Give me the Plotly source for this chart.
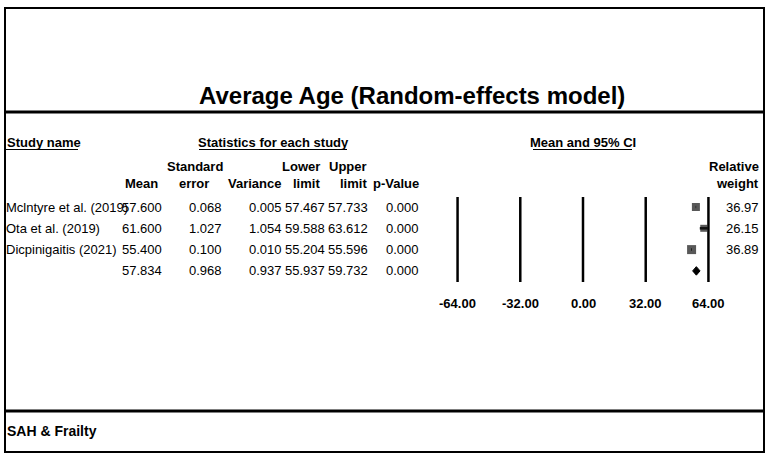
import plotly.graph_objects as go

# ---------------- data ----------------
study_labels = ["Mclntyre et al. (2019)", "Ota et al. (2019)", "Dicpinigaitis (2021)"]
means = [57.600, 61.600, 55.400]
std_errors = [0.068, 1.027, 0.100]
variances = [0.005, 1.054, 0.010]
lower_limits = [57.467, 59.588, 55.204]
upper_limits = [57.733, 63.612, 55.596]
p_values = [0.000, 0.000, 0.000]
rel_weights = [36.97, 26.15, 36.89]

summary_mean = 57.834
summary_se = 0.968
summary_var = 0.937
summary_lower = 55.937
summary_upper = 59.732
summary_p = 0.000

tick_vals = [-64, -32, 0, 32, 64]
tick_text = ["-64.00", "-32.00", "0.00", "32.00", "64.00"]

title_text = "Average Age (Random-effects model)"
footer_text = "SAH & Frailty"

# ---------------- geometry (pixels, in page coordinates) ----------------
W, H = 773, 460
FONT = "Liberation Sans, Arial, sans-serif"
marker_sizes = [8, 7, 9]

def fx(p):
    return p / W

def fy(p):
    return 1 - p / H

# x axis: value 0 at x=583, 1.96 px per unit
x0_px, scale = 583.0, 1.96
dom_l, dom_r = 430, 740
x_range = [(dom_l - x0_px) / scale, (dom_r - x0_px) / scale]

# y axis: rows; row 0 at y=207, spacing 21.3 px; domain = full figure height
row0_px, row_h = 207.0, 21.3
y_range = [(H - row0_px) / row_h, (0 - row0_px) / row_h]

def row_to_val(p):
    return (p - row0_px) / row_h

fig = go.Figure()

n = len(study_labels)
rows = list(range(n))

# CI lines + squares
fig.add_trace(go.Scatter(
    x=means, y=rows, mode="markers",
    marker=dict(symbol="square", size=marker_sizes, color="#111111",
                line=dict(width=0)),
    error_x=dict(type="data", symmetric=False,
                 array=[u - m for u, m in zip(upper_limits, means)],
                 arrayminus=[m - l for m, l in zip(means, lower_limits)],
                 color="#111111", thickness=2.5, width=0),
    hoverinfo="skip", showlegend=False,
))

# summary diamond
sr = n
dh = 0.2
fig.add_trace(go.Scatter(
    x=[summary_lower, summary_mean, summary_upper, summary_mean, summary_lower],
    y=[sr, sr - dh, sr, sr + dh, sr],
    mode="lines", fill="toself", fillcolor="#000000",
    line=dict(color="#000000", width=1),
    hoverinfo="skip", showlegend=False,
))

shapes = []
for tv in tick_vals:
    shapes.append(dict(type="line", xref="x", yref="y", x0=tv, x1=tv,
                       y0=row_to_val(197), y1=row_to_val(282),
                       line=dict(color="black", width=2.5)))

# outer frame and separators
shapes.append(dict(type="rect", xref="paper", yref="paper",
                   x0=fx(5), x1=fx(764), y0=fy(8), y1=fy(452),
                   line=dict(color="black", width=2)))
for yy in (112, 411):
    shapes.append(dict(type="line", xref="paper", yref="paper",
                       x0=fx(5), x1=fx(764), y0=fy(yy), y1=fy(yy),
                       line=dict(color="black", width=3)))

# underlines for section headers
for (a, b) in [(6, 78), (199, 347), (533, 632)]:
    shapes.append(dict(type="line", xref="paper", yref="paper",
                       x0=fx(a), x1=fx(b), y0=fy(149.5), y1=fy(149.5),
                       line=dict(color="black", width=1.2)))

ann = []

def txt(text, xpx, ypx, anchor="left", size=13, bold=False, yref="paper", yval=None):
    t = f"<b>{text}</b>" if bold else text
    ann.append(dict(text=t, x=fx(xpx), xref="paper", xanchor=anchor,
                    y=(fy(ypx) if yref == "paper" else yval), yref=yref,
                    yanchor="middle", showarrow=False,
                    font=dict(family=FONT, size=size, color="black")))

# title
txt(title_text, 412, 95, anchor="center", size=24, bold=True)

# section headers
txt("Study name", 5, 142, bold=True)
txt("Statistics for each study", 273, 142, anchor="center", bold=True)
txt("Mean and 95% CI", 583, 142, anchor="center", bold=True)

# column headers
txt("Standard", 195, 166, anchor="center", bold=True)
txt("error", 194, 183, anchor="center", bold=True)
txt("Mean", 160, 183, anchor="right", bold=True)
txt("Variance", 284, 183, anchor="right", bold=True)
txt("Lower", 322, 166, anchor="right", bold=True)
txt("limit", 322, 183, anchor="right", bold=True)
txt("Upper", 369, 166, anchor="right", bold=True)
txt("limit", 369, 183, anchor="right", bold=True)
txt("p-Value", 421, 183, anchor="right", bold=True)
txt("Relative", 761, 166, anchor="right", bold=True)
txt("weight", 761, 183, anchor="right", bold=True)

# table rows
col_x = [164, 224, 284, 327, 370, 421]
for i in range(n):
    txt(study_labels[i], 4, 0, yref="y", yval=i)
    vals = [means[i], std_errors[i], variances[i], lower_limits[i], upper_limits[i], p_values[i]]
    for cx, v in zip(col_x, vals):
        txt(f"{v:.3f}", cx, 0, anchor="right", yref="y", yval=i)
    txt(f"{rel_weights[i]:.2f}", 761, 0, anchor="right", yref="y", yval=i)

svals = [summary_mean, summary_se, summary_var, summary_lower, summary_upper, summary_p]
for cx, v in zip(col_x, svals):
    txt(f"{v:.3f}", cx, 0, anchor="right", yref="y", yval=n)

# tick labels under forest lines
for tv, tt in zip(tick_vals, tick_text):
    ann.append(dict(text=f"<b>{tt}</b>", x=tv, xref="x", xanchor="center",
                    y=row_to_val(303), yref="y", yanchor="middle", showarrow=False,
                    font=dict(family=FONT, size=13, color="black")))

# footer
txt(footer_text, 5, 431, size=14, bold=True)

fig.update_layout(
    width=W, height=H,
    margin=dict(l=0, r=0, t=0, b=0),
    paper_bgcolor="white", plot_bgcolor="rgba(0,0,0,0)",
    xaxis=dict(domain=[fx(dom_l), fx(dom_r)], range=x_range, visible=False, fixedrange=True),
    yaxis=dict(domain=[0, 1], range=y_range, visible=False, fixedrange=True),
    shapes=shapes, annotations=ann,
    font=dict(family=FONT),
    hovermode=False,
)

fig.write_html("out.html",
               config={"displayModeBar": False, "staticPlot": True},
               post_script="document.body.style.margin='0px';document.body.style.overflow='hidden';")
